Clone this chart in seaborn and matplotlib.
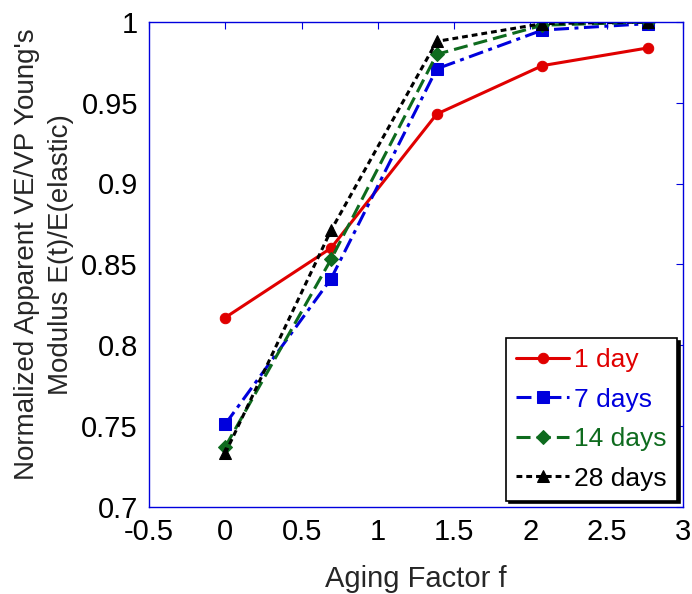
import matplotlib
matplotlib.use("Agg")
import matplotlib.pyplot as plt
import seaborn as sns
import pandas as pd

aging_factor = [0.0, 0.693, 1.386, 2.079, 2.773]
day1 = [0.817, 0.860, 0.943, 0.973, 0.984]
day7 = [0.751, 0.841, 0.971, 0.995, 0.999]
day14 = [0.737, 0.853, 0.980, 0.998, 1.000]
day28 = [0.733, 0.871, 0.988, 0.999, 1.000]
labels = ["1 day", "7 days", "14 days", "28 days"]
xticks = [-0.5, 0, 0.5, 1, 1.5, 2, 2.5, 3]
yticks = [0.7, 0.75, 0.8, 0.85, 0.9, 0.95, 1]

sns.set_style("white")
plt.rcParams['font.family'] = ['Liberation Sans', 'DejaVu Sans']

fig = plt.figure(figsize=(6.92, 5.94), dpi=100)
ax = fig.add_axes([149/692, 1 - 506.5/594, (683-149)/692, (506.5-22)/594])

styles = [
    dict(color="#e00000", marker="o", ms=7.5, dashes=None),
    dict(color="#0000dd", marker="s", ms=8.5, dashes=(4.9, 1.8, 1.3, 1.8)),
    dict(color="#0e6b1e", marker="D", ms=7, dashes=(4.6, 2.0)),
    dict(color="#000000", marker="^", ms=8, dashes=(1.9, 1.3)),
]
series = [day1, day7, day14, day28]
for lab, vals, st in zip(labels, series, styles):
    df = pd.DataFrame({"x": aging_factor, "y": vals})
    kw = dict(color=st["color"], marker=st["marker"], markersize=st["ms"],
              markeredgecolor=st["color"], linewidth=2.2, label=lab, ax=ax)
    line = sns.lineplot(data=df, x="x", y="y", **kw).lines[-1]
    if st["dashes"] is not None:
        line.set_dashes(st["dashes"])

ax.set_xlim(-0.5, 3)
ax.set_ylim(0.7, 1.0)
ax.set_xticks(xticks)
ax.set_xticklabels(["-0.5", "0", "0.5", "1", "1.5", "2", "2.5", "3"])
ax.set_yticks(yticks)
ax.set_yticklabels(["0.7", "0.75", "0.8", "0.85", "0.9", "0.95", "1"])
for sp in ax.spines.values():
    sp.set_color("#0000dd")
    sp.set_linewidth(1.0)
ax.tick_params(direction="in", length=5, color="#0000dd", labelsize=21,
               top=True, right=True, labelcolor="black", pad=8)
ax.set_xlabel("Aging Factor f", fontsize=21, labelpad=14)
ax.set_ylabel("Normalized Apparent VE/VP Young's\nModulus E(t)/E(elastic)",
              fontsize=20, linespacing=1.4)
ax.yaxis.set_label_coords(-0.141, 0.52)

leg = ax.legend(loc="lower right", bbox_to_anchor=(0.989, 0.012), borderaxespad=0,
                fontsize=19, frameon=True, shadow={"color": "black", "alpha": 1.0},
                fancybox=False, handlelength=2.0, labelspacing=0.59,
                borderpad=0.38, handletextpad=0.2)
leg.get_frame().set_edgecolor("black")
leg.get_frame().set_linewidth(1.2)
leg.get_frame().set_alpha(1.0)
for txt, st in zip(leg.get_texts(), styles):
    txt.set_color(st["color"])

fig.savefig("out.png", dpi=100)
